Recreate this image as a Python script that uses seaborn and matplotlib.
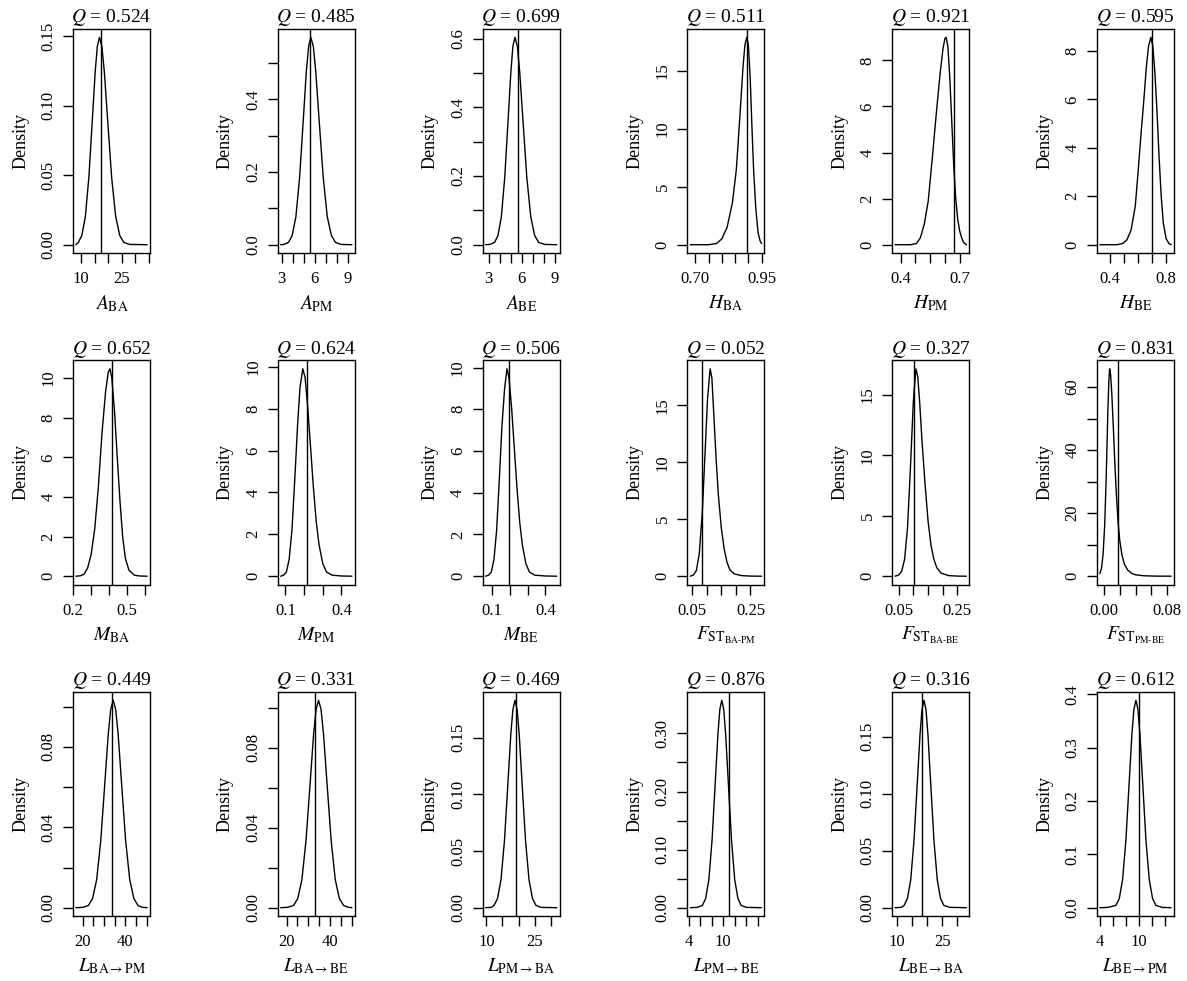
import matplotlib
matplotlib.use("Agg")
import matplotlib.pyplot as plt
import seaborn as sns

# posterior predictive density panels, 3 rows x 6 columns
q_titles = ["0.524", "0.485", "0.699", "0.511", "0.921", "0.595",
            "0.652", "0.624", "0.506", "0.052", "0.327", "0.831",
            "0.449", "0.331", "0.469", "0.876", "0.316", "0.612"]

x_names = [r"$A_{\mathrm{BA}}$", r"$A_{\mathrm{PM}}$", r"$A_{\mathrm{BE}}$",
           r"$H_{\mathrm{BA}}$", r"$H_{\mathrm{PM}}$", r"$H_{\mathrm{BE}}$",
           r"$M_{\mathrm{BA}}$", r"$M_{\mathrm{PM}}$", r"$M_{\mathrm{BE}}$",
           r"$F_{\mathrm{ST}_{\text{BA-PM}}}$", r"$F_{\mathrm{ST}_{\text{BA-BE}}}$",
           r"$F_{\mathrm{ST}_{\text{PM-BE}}}$",
           r"$L_{\mathrm{BA}\rightarrow\mathrm{PM}}$", r"$L_{\mathrm{BA}\rightarrow\mathrm{BE}}$",
           r"$L_{\mathrm{PM}\rightarrow\mathrm{BA}}$", r"$L_{\mathrm{PM}\rightarrow\mathrm{BE}}$",
           r"$L_{\mathrm{BE}\rightarrow\mathrm{BA}}$", r"$L_{\mathrm{BE}\rightarrow\mathrm{PM}}$"]

# observed statistic (vertical line)
observed = [17.3, 5.55, 5.66, 0.894, 0.671, 0.696,
            0.416, 0.216, 0.195, 0.0833, 0.1017, 0.0175,
            33.65, 33.0, 19.2, 11.07, 18.44, 9.95]

# density curves
dens_x = [
    [8.1, 9.0, 10.3, 11.6, 12.9, 14.2, 15.24, 16.02, 16.8, 17.7, 18.6, 19.8, 21.3, 22.8, 24.3, 25.8, 28, 34.4],
    [2.9, 3.2, 3.61, 3.95, 4.29, 4.63, 4.97, 5.24, 5.45, 5.65, 5.88, 6.1, 6.4, 6.78, 7.15, 7.53, 7.9, 8.4, 9.4],
    [2.7, 3.1, 3.53, 3.84, 4.15, 4.46, 4.77, 5.02, 5.2, 5.39, 5.61, 5.82, 6.11, 6.47, 6.83, 7.19, 7.55, 8.1, 9.2],
    [0.681, 0.75, 0.78, 0.80, 0.82, 0.84, 0.855, 0.868, 0.88, 0.887, 0.894, 0.9, 0.907, 0.914, 0.92, 0.928, 0.937, 0.945, 0.95],
    [0.371, 0.45, 0.48, 0.50, 0.52, 0.54, 0.56, 0.58, 0.60, 0.615, 0.625, 0.631, 0.64, 0.65, 0.66, 0.67, 0.68, 0.69, 0.70, 0.71, 0.72, 0.734],
    [0.327, 0.45, 0.49, 0.52, 0.55, 0.58, 0.60, 0.62, 0.64, 0.66, 0.675, 0.691, 0.705, 0.72, 0.735, 0.75, 0.765, 0.78, 0.80, 0.82, 0.836],
    [0.215, 0.24, 0.26, 0.28, 0.30, 0.32, 0.34, 0.36, 0.38, 0.395, 0.4045, 0.415, 0.43, 0.445, 0.46, 0.475, 0.49, 0.51, 0.54, 0.57, 0.611],
    [0.0745, 0.09, 0.105, 0.12, 0.135, 0.15, 0.165, 0.178, 0.193, 0.205, 0.22, 0.235, 0.25, 0.265, 0.28, 0.30, 0.32, 0.35, 0.40, 0.456],
    [0.062, 0.08, 0.095, 0.11, 0.125, 0.14, 0.155, 0.17, 0.1835, 0.195, 0.21, 0.225, 0.24, 0.255, 0.27, 0.29, 0.31, 0.34, 0.40, 0.464],
    [0.044, 0.055, 0.065, 0.075, 0.085, 0.095, 0.103, 0.112, 0.118, 0.125, 0.132, 0.14, 0.15, 0.16, 0.17, 0.18, 0.195, 0.22, 0.25, 0.288],
    [0.0374, 0.05, 0.06, 0.07, 0.08, 0.09, 0.1, 0.1086, 0.115, 0.122, 0.13, 0.14, 0.15, 0.16, 0.17, 0.18, 0.195, 0.22, 0.25, 0.281],
    [-0.0051, -0.003, -0.001, 0.001, 0.003, 0.005, 0.0063, 0.00727, 0.0085, 0.010, 0.012, 0.014, 0.016, 0.018, 0.020, 0.023, 0.026, 0.03, 0.035, 0.04, 0.05, 0.065, 0.0851],
    [16.7, 20, 22.6, 24.55, 26.5, 28.45, 30.4, 31.96, 33.13, 34.3, 35.47, 36.64, 38.2, 40.15, 42.1, 44.05, 46.0, 48, 50.3],
    [17.3, 20.5, 23.25, 25.2, 27.1, 29.0, 30.95, 32.5, 33.65, 34.8, 35.95, 37.1, 38.65, 40.6, 42.5, 44.4, 46.35, 48.5, 50.2],
    [9.7, 11.5, 12.36, 13.45, 14.54, 15.63, 16.72, 17.59, 18.25, 18.9, 19.55, 20.21, 21.08, 22.17, 23.26, 24.35, 25.44, 27, 31.9],
    [4.3, 5.5, 6.39, 6.95, 7.51, 8.06, 8.62, 9.07, 9.4, 9.74, 10.08, 10.41, 10.86, 11.42, 11.97, 12.53, 13.09, 14, 16.6],
    [9.44, 11.5, 12.43, 13.52, 14.62, 15.71, 16.81, 17.69, 18.34, 19.0, 19.66, 20.31, 21.19, 22.29, 23.38, 24.48, 25.57, 27.5, 33.0],
    [3.95, 5.2, 6.41, 6.93, 7.44, 7.95, 8.46, 8.87, 9.18, 9.49, 9.8, 10.11, 10.52, 11.03, 11.54, 12.05, 12.57, 13.5, 14.9],
]
dens_y = [
    [0.0, 0.0016, 0.0066, 0.0201, 0.0484, 0.0904, 0.1244, 0.1424, 0.149, 0.1424, 0.1244, 0.0904, 0.0484, 0.0201, 0.0066, 0.0016, 0.0002, 0.0],
    [0.0, 0.0008, 0.0063, 0.0251, 0.0771, 0.1856, 0.3466, 0.4768, 0.5459, 0.571, 0.5459, 0.4768, 0.3466, 0.1856, 0.0771, 0.0251, 0.0063, 0.0008, 0.0],
    [0.0, 0.0008, 0.0066, 0.0266, 0.0815, 0.1963, 0.3666, 0.5043, 0.5774, 0.604, 0.5774, 0.5043, 0.3666, 0.1963, 0.0815, 0.0266, 0.0066, 0.0008, 0.0],
    [0.0, 0.0, 0.1, 0.5, 1.5, 3.6, 6.5, 11.0, 15.3, 17.2, 17.9, 17.3, 14.5, 10.0, 6.5, 3.2, 1.0, 0.3, 0.1],
    [0.0, 0.0, 0.05, 0.3, 0.9, 1.9, 3.7, 5.6, 7.4, 8.5, 8.95, 9.0, 8.6, 7.2, 5.3, 3.4, 2.0, 1.1, 0.6, 0.3, 0.1, 0.0],
    [0.0, 0.0, 0.05, 0.2, 0.6, 1.6, 3.0, 4.5, 5.9, 7.4, 8.2, 8.56, 8.2, 7.1, 5.5, 3.6, 2.0, 0.9, 0.25, 0.05, 0.0],
    [0.0, 0.02, 0.1, 0.4, 1.1, 2.4, 4.5, 7.2, 9.3, 10.3, 10.47, 10.0, 8.3, 6.0, 3.8, 2.0, 0.9, 0.3, 0.05, 0.01, 0.0],
    [0.0, 0.05, 0.2, 0.8, 2.2, 4.6, 7.2, 9.0, 9.9, 9.5, 8.0, 6.1, 4.2, 2.6, 1.5, 0.6, 0.2, 0.05, 0.01, 0.0],
    [0.0, 0.05, 0.2, 0.8, 2.2, 4.6, 7.2, 9.0, 9.94, 9.5, 8.0, 6.1, 4.2, 2.6, 1.5, 0.6, 0.2, 0.05, 0.01, 0.0],
    [0.0, 0.1, 0.5, 2.0, 5.5, 11.0, 15.5, 18.2, 17.4, 14.0, 10.5, 7.2, 4.3, 2.4, 1.2, 0.55, 0.2, 0.05, 0.01, 0.0],
    [0.0, 0.1, 0.4, 1.4, 4.0, 9.0, 14.5, 17.15, 16.5, 14.2, 11.0, 7.6, 4.6, 2.6, 1.4, 0.7, 0.25, 0.05, 0.01, 0.0],
    [0.8, 2.5, 7.0, 16.0, 32.0, 52.0, 62.0, 65.8, 64.0, 58.0, 47.0, 35.0, 25.0, 17.0, 11.5, 6.5, 3.8, 2.0, 0.9, 0.45, 0.15, 0.03, 0.0],
    [0.0, 0.0002, 0.0011, 0.0045, 0.0139, 0.0335, 0.0626, 0.0862, 0.0987, 0.1032, 0.0987, 0.0862, 0.0626, 0.0335, 0.0139, 0.0045, 0.0011, 0.0002, 0.0],
    [0.0, 0.0002, 0.0011, 0.0046, 0.014, 0.0337, 0.063, 0.0867, 0.0992, 0.1038, 0.0992, 0.0867, 0.063, 0.0337, 0.014, 0.0046, 0.0011, 0.0002, 0.0],
    [0.0, 0.0003, 0.002, 0.008, 0.0247, 0.0595, 0.111, 0.1528, 0.175, 0.183, 0.175, 0.1528, 0.111, 0.0595, 0.0247, 0.008, 0.002, 0.0003, 0.0],
    [0.0, 0.0006, 0.0039, 0.0157, 0.0482, 0.116, 0.2167, 0.298, 0.3413, 0.357, 0.3413, 0.298, 0.2167, 0.116, 0.0482, 0.0157, 0.0039, 0.0006, 0.0],
    [0.0, 0.0003, 0.002, 0.008, 0.0246, 0.0592, 0.1105, 0.152, 0.174, 0.182, 0.174, 0.152, 0.1105, 0.0592, 0.0246, 0.008, 0.002, 0.0003, 0.0],
    [0.0, 0.0006, 0.0043, 0.0171, 0.0525, 0.1264, 0.2361, 0.3248, 0.3719, 0.389, 0.3719, 0.3248, 0.2361, 0.1264, 0.0525, 0.0171, 0.0043, 0.0006, 0.0],
]

# axis ticks and which labels are printed
x_ticks = [
    [10, 15, 20, 25, 30, 35], [3, 4, 5, 6, 7, 8, 9], [3, 4, 5, 6, 7, 8, 9],
    [0.70, 0.75, 0.80, 0.85, 0.90, 0.95], [0.4, 0.475, 0.55, 0.625, 0.7], [0.4, 0.5, 0.6, 0.7, 0.8],
    [0.2, 0.3, 0.4, 0.5, 0.6], [0.1, 0.2, 0.3, 0.4], [0.1, 0.2, 0.3, 0.4],
    [0.05, 0.10, 0.15, 0.20, 0.25], [0.05, 0.10, 0.15, 0.20, 0.25], [0.0, 0.02, 0.04, 0.06, 0.08],
    [20, 25, 30, 35, 40, 45, 50], [20, 25, 30, 35, 40, 45, 50], [10, 15, 20, 25, 30],
    [4, 6, 8, 10, 12, 14, 16], [10, 15, 20, 25, 30], [4, 6, 8, 10, 12, 14],
]
x_tick_text = [
    ["10", "", "", "25", "", ""], ["3", "", "", "6", "", "", "9"], ["3", "", "", "6", "", "", "9"],
    ["0.70", "", "", "", "", "0.95"], ["0.4", "", "", "", "0.7"], ["0.4", "", "", "", "0.8"],
    ["0.2", "", "", "0.5", ""], ["0.1", "", "", "0.4"], ["0.1", "", "", "0.4"],
    ["0.05", "", "", "", "0.25"], ["0.05", "", "", "", "0.25"], ["0.00", "", "", "", "0.08"],
    ["20", "", "", "", "40", "", ""], ["20", "", "", "", "40", "", ""], ["10", "", "", "25", ""],
    ["4", "", "", "10", "", "", ""], ["10", "", "", "25", ""], ["4", "", "", "10", "", ""],
]
y_ticks = [
    [0, 0.05, 0.10, 0.15], [0, 0.1, 0.2, 0.3, 0.4, 0.5], [0, 0.1, 0.2, 0.3, 0.4, 0.5, 0.6],
    [0, 5, 10, 15], [0, 2, 4, 6, 8], [0, 2, 4, 6, 8],
    [0, 2, 4, 6, 8, 10], [0, 2, 4, 6, 8, 10], [0, 2, 4, 6, 8, 10],
    [0, 5, 10, 15], [0, 5, 10, 15], [0, 10, 20, 30, 40, 50, 60],
    [0, 0.02, 0.04, 0.06, 0.08, 0.10], [0, 0.02, 0.04, 0.06, 0.08, 0.10], [0, 0.05, 0.10, 0.15],
    [0, 0.05, 0.10, 0.15, 0.20, 0.25, 0.30], [0, 0.05, 0.10, 0.15], [0, 0.1, 0.2, 0.3, 0.4],
]
y_tick_text = [
    ["0.00", "0.05", "0.10", "0.15"], ["0.0", "", "0.2", "", "0.4", ""], ["0.0", "", "0.2", "", "0.4", "", "0.6"],
    ["0", "5", "10", "15"], ["0", "2", "4", "6", "8"], ["0", "2", "4", "6", "8"],
    ["0", "2", "4", "6", "8", "10"], ["0", "2", "4", "6", "8", "10"], ["0", "2", "4", "6", "8", "10"],
    ["0", "5", "10", "15"], ["0", "5", "10", "15"], ["0", "", "20", "", "40", "", "60"],
    ["0.00", "", "0.04", "", "0.08", ""], ["0.00", "", "0.04", "", "0.08", ""], ["0.00", "0.05", "0.10", "0.15"],
    ["0.00", "", "0.10", "", "0.20", "", "0.30"], ["0.00", "0.05", "0.10", "0.15"], ["0.0", "0.1", "0.2", "0.3", "0.4"],
]

sns.set_style("white")
plt.rcParams['font.family'] = ['Liberation Serif', 'DejaVu Serif']
plt.rcParams['mathtext.fontset'] = 'stix'
plt.rcParams['text.color'] = 'black'
plt.rcParams['axes.labelcolor'] = 'black'

W, H = 1187, 981
fig = plt.figure(figsize=(W / 100, H / 100), dpi=100)

for k in range(18):
    r, c = divmod(k, 6)
    left = (73 + c * 204.8) / W
    bottom = 1 - (29 + r * 331.5 + 224) / H
    ax = fig.add_axes([left, bottom, 77 / W, 224 / H])

    xs, ys = dens_x[k], dens_y[k]
    sns.lineplot(x=xs, y=ys, ax=ax, color='black', linewidth=1.0,
                 estimator=None, sort=False)
    ax.axvline(observed[k], color='black', linewidth=1.0)

    # R style 4% padding around the data range
    dx = (max(xs) - min(xs)) * 0.04
    dy = (max(ys) - min(ys)) * 0.04
    ax.set_xlim(min(xs) - dx, max(xs) + dx)
    ax.set_ylim(min(ys) - dy, max(ys) + dy)

    ax.set_xticks(x_ticks[k])
    ax.set_xticklabels(x_tick_text[k], fontsize=12)
    ax.set_yticks(y_ticks[k])
    ax.set_yticklabels(y_tick_text[k], fontsize=12, rotation=90, va='center')

    ax.tick_params(bottom=True, left=True, direction='out', length=7, width=1.0,
                   color='black', labelcolor='black')
    ax.tick_params(axis='x', pad=6)
    ax.tick_params(axis='y', pad=5)
    for sp in ax.spines.values():
        sp.set_visible(True)
        sp.set_color('black')
        sp.set_linewidth(1.0)

    ax.set_title(r"$Q$ = " + q_titles[k], fontsize=14, pad=5)
    ax.set_xlabel(x_names[k], fontsize=14)
    ax.set_ylabel("Density", fontsize=13)
    ax.xaxis.set_label_coords(0.5, -0.18)
    ax.yaxis.set_label_coords(-0.57, 0.5)

fig.savefig("out.png", dpi=100, facecolor='white')
